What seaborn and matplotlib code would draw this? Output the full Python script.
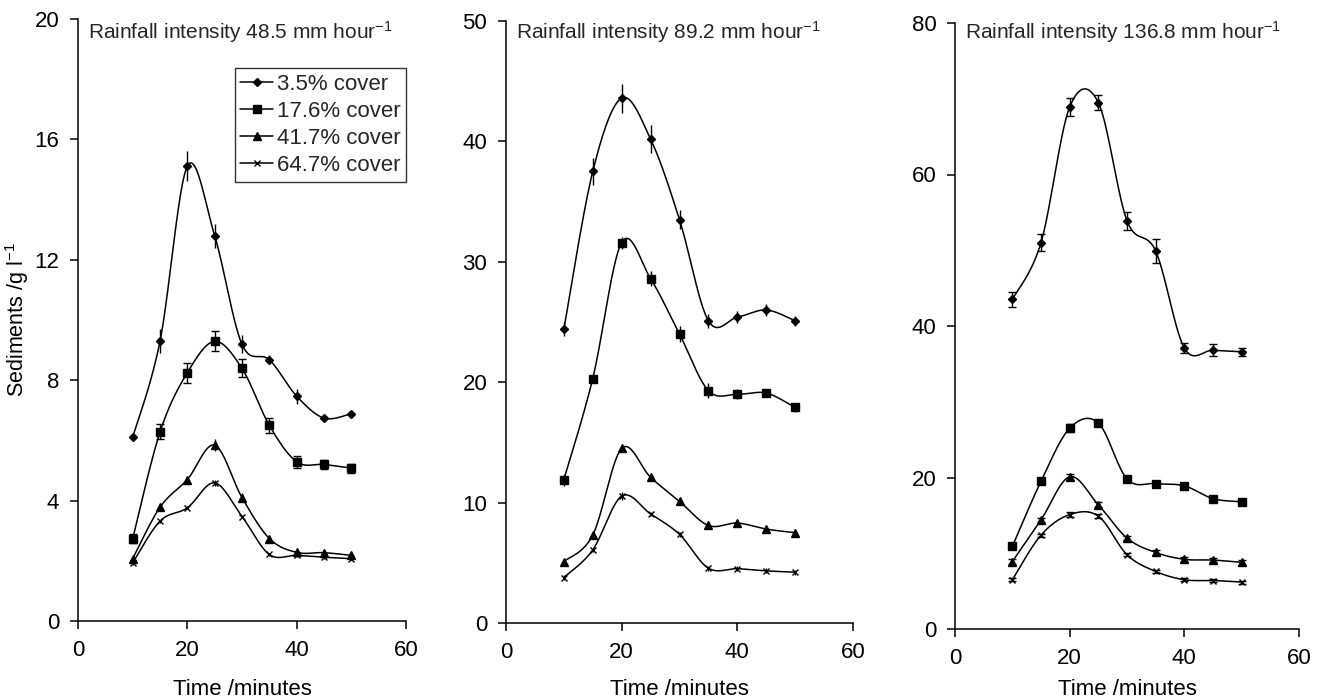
import matplotlib
matplotlib.use("Agg")
import matplotlib.pyplot as plt
import seaborn as sns
import numpy as np
import pandas as pd
from matplotlib.lines import Line2D

sns.set_theme(style="ticks")
plt.rcParams["font.family"] = ["Liberation Sans", "DejaVu Sans"]
plt.rcParams["mathtext.fontset"] = "custom"
plt.rcParams["mathtext.rm"] = "Liberation Sans"
plt.rcParams["mathtext.it"] = "Liberation Sans"

# tempo de amostragem (min)
time = [10, 15, 20, 25, 30, 35, 40, 45, 50]
covers = ["3.5% cover", "17.6% cover", "41.7% cover", "64.7% cover"]
intensities = ["48.5", "89.2", "136.8"]

# 48.5 mm/h
p1_c35 = [6.10, 9.29, 15.11, 12.80, 9.19, 8.68, 7.47, 6.74, 6.89]
p1_c176 = [2.73, 6.28, 8.25, 9.29, 8.39, 6.50, 5.29, 5.20, 5.08]
p1_c417 = [2.07, 3.78, 4.70, 5.84, 4.10, 2.74, 2.28, 2.27, 2.18]
p1_c647 = [1.93, 3.32, 3.76, 4.59, 3.47, 2.21, 2.18, 2.12, 2.07]
p1_e35 = [0.10, 0.40, 0.50, 0.40, 0.30, 0.15, 0.25, 0.05, 0.05]
p1_e176 = [0.15, 0.25, 0.33, 0.33, 0.30, 0.25, 0.20, 0.15, 0.15]
p1_e417 = [0.05, 0.05, 0.05, 0.20, 0.15, 0.05, 0.05, 0.05, 0.05]
p1_e647 = [0.08, 0.05, 0.05, 0.10, 0.05, 0.05, 0.05, 0.05, 0.05]

# 89.2 mm/h
p2_c35 = [24.4, 37.5, 43.6, 40.2, 33.5, 25.1, 25.4, 26.0, 25.1]
p2_c176 = [11.9, 20.3, 31.6, 28.6, 24.0, 19.3, 19.0, 19.1, 17.9]
p2_c417 = [5.1, 7.3, 14.5, 12.1, 10.1, 8.1, 8.3, 7.8, 7.5]
p2_c647 = [3.77, 6.07, 10.54, 9.06, 7.36, 4.55, 4.51, 4.33, 4.22]
p2_e35 = [0.6, 1.1, 1.2, 1.2, 0.8, 0.6, 0.5, 0.5, 0.4]
p2_e176 = [0.5, 0.4, 0.5, 0.6, 0.7, 0.6, 0.4, 0.3, 0.4]
p2_e417 = [0.2, 0.2, 0.3, 0.2, 0.2, 0.2, 0.2, 0.2, 0.2]
p2_e647 = [0.2, 0.2, 0.3, 0.2, 0.2, 0.2, 0.2, 0.2, 0.2]

# 136.8 mm/h
p3_c35 = [43.5, 51.0, 68.9, 69.5, 53.9, 49.9, 37.1, 36.8, 36.6]
p3_c176 = [10.9, 19.5, 26.5, 27.2, 19.8, 19.2, 18.9, 17.2, 16.8]
p3_c417 = [8.9, 14.4, 20.1, 16.4, 12.0, 10.1, 9.2, 9.1, 8.8]
p3_c647 = [6.5, 12.4, 15.1, 14.9, 9.8, 7.6, 6.5, 6.4, 6.2]
p3_e35 = [1.0, 1.1, 1.2, 1.0, 1.2, 1.6, 0.7, 0.8, 0.5]
p3_e176 = [0.4, 0.4, 0.5, 0.4, 0.3, 0.4, 0.3, 0.3, 0.3]
p3_e417 = [0.3, 0.3, 0.4, 0.3, 0.3, 0.3, 0.3, 0.3, 0.3]
p3_e647 = [0.2, 0.2, 0.3, 0.3, 0.2, 0.2, 0.2, 0.2, 0.2]

paineis = [
    (p1_c35, p1_c176, p1_c417, p1_c647),
    (p2_c35, p2_c176, p2_c417, p2_c647),
    (p3_c35, p3_c176, p3_c417, p3_c647),
]
erros = [
    (p1_e35, p1_e176, p1_e417, p1_e647),
    (p2_e35, p2_e176, p2_e417, p2_e647),
    (p3_e35, p3_e176, p3_e417, p3_e647),
]
ymax = [20, 50, 80]
ystep = [4, 10, 20]

marcadores = [("D", 3.6), ("s", 5.5), ("^", 5.5), ("x", 5)]
caps = [(0, 3, 0, 0), (0, 0, 0, 0), (3, 3, 3, 3)]

# posicoes dos eixos em pixels (esq, dir, topo, base)
rects = [(78, 406, 19, 621), (506, 853, 21, 623), (955, 1299, 23, 629)]
W, H = 1319, 700
FS = 16


def suavizar(x, y, sx, sy, n=30):
    # curva suavizada tipo Excel (bezier com tangentes de Catmull-Rom)
    P = np.column_stack([np.asarray(x, float) * sx, np.asarray(y, float) * sy])
    out = []
    t = np.linspace(0, 1, n)[:, None]
    for i in range(len(P) - 1):
        p0 = P[max(i - 1, 0)]
        p1, p2 = P[i], P[i + 1]
        p3 = P[min(i + 2, len(P) - 1)]
        c1 = p1 + (p2 - p0) / 6
        c2 = p2 - (p3 - p1) / 6
        seg = (1 - t) ** 3 * p1 + 3 * (1 - t) ** 2 * t * c1 + 3 * (1 - t) * t ** 2 * c2 + t ** 3 * p2
        out.append(seg if i == 0 else seg[1:])
    out = np.vstack(out)
    return out[:, 0] / sx, out[:, 1] / sy


fig = plt.figure(figsize=(W / 100, H / 100), dpi=100)
for k in range(3):
    l, r, t_, b = rects[k]
    alt = b - t_
    ax = fig.add_axes([l / W, (H - b) / H, (r - l) / W, alt / H])
    sx, sy = (r - l) / 60, alt / ymax[k]
    for j in range(4):
        vals = paineis[k][j]
        xs, ys = suavizar(time, vals, sx, sy)
        curva = pd.DataFrame({"t": xs, "s": ys})
        sns.lineplot(data=curva, x="t", y="s", sort=False, estimator=None,
                     color="black", lw=1.1, ax=ax)
        m, ms = marcadores[j]
        ax.errorbar(time, vals, yerr=erros[k][j], fmt=m, ms=ms, color="black",
                    mew=1.0, elinewidth=1.0, capsize=caps[k][j], capthick=1.0)
    ax.set_xlim(0, 60)
    ax.set_ylim(0, ymax[k])
    ax.set_xticks([0, 20, 40, 60])
    ax.set_yticks(np.arange(0, ymax[k] + 1, ystep[k]))
    sns.despine(ax=ax)
    for s in ("left", "bottom"):
        ax.spines[s].set_linewidth(1.1)
        ax.spines[s].set_color("black")
    ax.tick_params(axis="both", direction="out", length=5.5, width=1.1,
                   color="black", labelsize=FS, labelcolor="black")
    ax.tick_params(axis="x", pad=8)
    ax.tick_params(axis="y", pad=8)
    ax.set_xlabel("Time /minutes", fontsize=FS, color="black")
    ax.xaxis.set_label_coords(0.5, (b - 679) / alt)
    ax.set_ylabel("")
    ax.text(10 / (r - l), (b - 32) / alt,
            f"Rainfall intensity {intensities[k]} mm hour$^{{-1}}$",
            transform=ax.transAxes, ha="left", va="center", fontsize=15)
    if k == 0:
        ax.set_ylabel("Sediments /g l$^{-1}$", fontsize=15.5, color="black")
        ax.yaxis.set_label_coords((31 - l) / (r - l), 0.5)
        handles = [Line2D([], [], color="black", lw=1.1, marker=m, ms=ms, mew=1.0)
                   for m, ms in marcadores]
        leg = ax.legend(handles, covers, loc="upper right",
                        bbox_to_anchor=(1.0, (b - 68) / alt),
                        fontsize=FS, frameon=True, fancybox=False,
                        handlelength=1.5, handletextpad=0.15, labelspacing=0.28,
                        borderpad=0.25, borderaxespad=0.0)
        leg.get_frame().set_edgecolor("black")
        leg.get_frame().set_linewidth(1.0)

fig.savefig("out.png", dpi=100)
